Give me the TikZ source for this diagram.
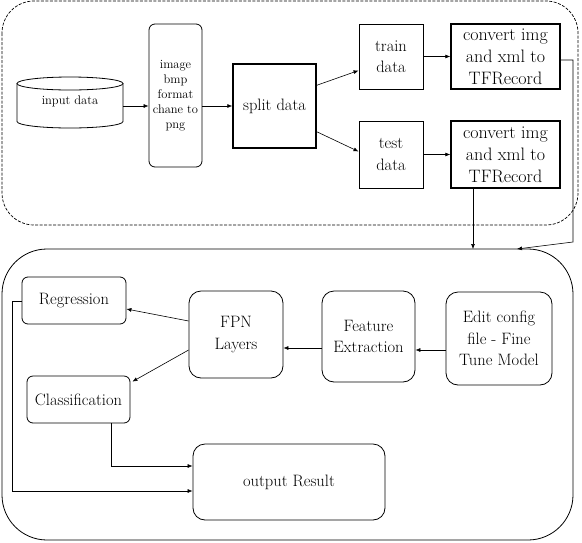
\documentclass[tikz,border=0pt]{standalone}
\usetikzlibrary{arrows.meta,calc}
\begin{document}
\begin{tikzpicture}[x=1pt,y=-1pt,
  every node/.style={inner sep=1pt, align=center},
  arr/.style={-{Latex[length=5pt,width=4pt]}, line width=0.6pt},
  sq/.style={draw, line width=0.9pt, rectangle},
  sqthick/.style={draw, line width=1.4pt, rectangle},
  rbox/.style={draw, line width=0.8pt, rounded corners=6pt},
  rbig/.style={draw, line width=0.8pt, rounded corners=12pt},
  big/.style={font=\fontsize{16.5}{21.5}\selectfont},
  conv/.style={font=\fontsize{18}{22}\selectfont},
  small/.style={font=\fontsize{12.5}{15}\selectfont}
]
\useasboundingbox (0,0) rectangle (582,542);

% containers
\draw[dashed, dash pattern=on 3pt off 1.5pt, line width=0.7pt, rounded corners=32pt] (2,1) rectangle (578,225);
\draw[line width=0.8pt, rounded corners=45pt] (2,249) rectangle (573,540);

% cylinder input data
\node[minimum width=106pt, minimum height=51pt, inner sep=0pt] (inp) at (70,102.5) {};
\draw[line width=0.8pt] (17,83.5) -- (17,121.5) arc[start angle=180, end angle=360, x radius=53, y radius=-6.5] -- (123,83.5);
\draw[line width=0.8pt] (70,83.5) ellipse[x radius=53, y radius=6.5];
\node[font=\fontsize{12.5}{15}\selectfont] at (70,101) {input data};

% top row
\node[rbox, minimum width=53pt, minimum height=143pt, small] (img) at (175.5,95.5) {image\\bmp\\format\\chane to\\png};
\node[sqthick, minimum width=83pt, minimum height=84pt, big] (sp) at (274.5,106) {split data};
\node[sq, minimum width=64pt, minimum height=65pt, big] (tr) at (391,56.5) {train\\data};
\node[sq, minimum width=64pt, minimum height=67pt, big] (te) at (391,154.5) {test\\data};
\node[sqthick, minimum width=109pt, minimum height=65pt, conv] (c1) at (505.5,56.5) {convert img\\and xml to\\TFRecord};
\node[sqthick, minimum width=109pt, minimum height=67pt, conv] (c2) at (505.5,154.5) {convert img\\and xml to\\TFRecord};

\draw[arr] (inp.east |- sp) -- (img.west |- sp);
\draw[arr] (img.east |- sp) -- (sp.west);
\draw[arr] ($(sp.north east)+(0,22)$) -- ($(tr.west)+(0,14)$);
\draw[arr] ($(sp.south east)+(0,-17)$) -- ($(te.west)+(0,-3)$);
\draw[arr] (tr.east |- c1) -- (c1.west);
\draw[arr] (te.east |- c2) -- (c2.west);

% connectors between the two frames
\coordinate (k1) at (573,60);
\coordinate (k2) at (573,242);
\coordinate (e1) at (517,249);
\coordinate (e2) at (473,249);
\draw[arr] (c1.east |- k1) -- (k1) -- (k2) -- (e1);
\draw[arr] (c2.south -| e2) -- (e2);

% bottom part
\node[rbox, minimum width=104pt, minimum height=47pt, big] (reg) at (74,300.5) {Regression};
\node[rbox, minimum width=103pt, minimum height=47pt, big] (cls) at (78.5,399.5) {Classification};
\node[rbig, minimum width=94pt, minimum height=87pt, big] (fpn) at (236,334.5) {FPN\\Layers};
\node[rbig, minimum width=93pt, minimum height=91pt, big] (fe) at (368.5,336.5) {Feature\\Extraction};
\node[rbig, minimum width=106pt, minimum height=93pt, big] (ed) at (499,338.5) {Edit config\\file - Fine\\Tune Model};
\node[rbig, minimum width=192pt, minimum height=76pt, big] (out) at (289,482) {output Result};

\draw[arr] (ed.west |- 0,350) -- (fe.east |- 0,350);
\draw[arr] (fe.west |- 0,348) -- (fpn.east |- 0,348);
\draw[arr] (fpn.west |- 0,321) -- (reg.east |- 0,309);
\draw[arr] (fpn.west |- 0,350) -- ($(cls.north east)+(2,6)$);
\draw[arr] (cls.south -| 111,0) -- (111,466) -- (out.west |- 0,466);
\draw[arr] (reg.west |- 0,301) -- (12,301) -- (12,491) -- (out.west |- 0,491);
\end{tikzpicture}
\end{document}
